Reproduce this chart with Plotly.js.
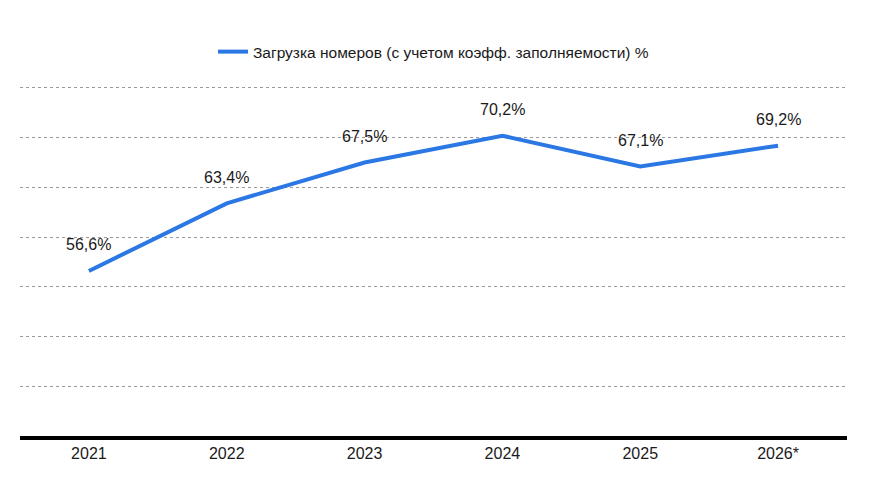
<!DOCTYPE html>
<html>
<head>
<meta charset="utf-8">
<script src="https://cdn.plot.ly/plotly-3.0.1.min.js"></script>
<style>
  html, body { margin: 0; padding: 0; background: #fff; }
  #chart { width: 883px; height: 482px; }
</style>
</head>
<body>
<div id="chart"></div>
<script>
    // годы и загрузка номеров, %
    var years = ['2021', '2022', '2023', '2024', '2025', '2026*'];
    var occupancy = [56.6, 63.4, 67.5, 70.2, 67.1, 69.2];
    var labels = ['56,6%', '63,4%', '67,5%', '70,2%', '67,1%', '69,2%'];
    var seriesName = 'Загрузка номеров (с учетом коэфф. заполняемости) %';

    var font = 'Liberation Sans Narrow, Liberation Sans, Arial, sans-serif';

    var trace1 = {
        x: years,
        y: occupancy,
        name: seriesName,
        mode: 'lines',
        type: 'scatter',
        line: { color: '#2b78e4', width: 4 },
        hoverinfo: 'skip'
    };

    var notes = years.map(function (yr, i) {
        return {
            x: i,
            y: occupancy[i],
            text: labels[i],
            showarrow: false,
            yshift: 26,
            font: { family: font, size: 16, color: '#1a1a1a' }
        };
    });

    var layout = {
        width: 883,
        height: 482,
        paper_bgcolor: '#fff',
        plot_bgcolor: '#fff',
        margin: { t: 86, r: 36, l: 20, b: 46 },
        showlegend: true,
        legend: {
            orientation: 'h',
            x: 0.5, xanchor: 'center',
            yref: 'paper', y: 1.097, yanchor: 'middle',
            font: { family: font, size: 15.5, color: '#1a1a1a' }
        },
        font: { family: font, size: 16, color: '#1a1a1a' },
        xaxis: {
            type: 'category',
            categoryorder: 'array',
            categoryarray: years,
            range: [-0.5, 5.5],
            showgrid: false,
            zeroline: false,
            showline: true,
            linecolor: '#000',
            linewidth: 4,
            ticks: '',
            tickfont: { family: font, size: 16, color: '#1a1a1a' }
        },
        yaxis: {
            range: [40, 75.2],
            dtick: 5,
            showgrid: true,
            gridcolor: '#999',
            griddash: 'dot',
            gridwidth: 1,
            zeroline: false,
            showticklabels: false,
            ticks: ''
        },
        annotations: notes
    };

    Plotly.newPlot('chart', [trace1], layout, { displayModeBar: false, staticPlot: true });
</script>
</body>
</html>
